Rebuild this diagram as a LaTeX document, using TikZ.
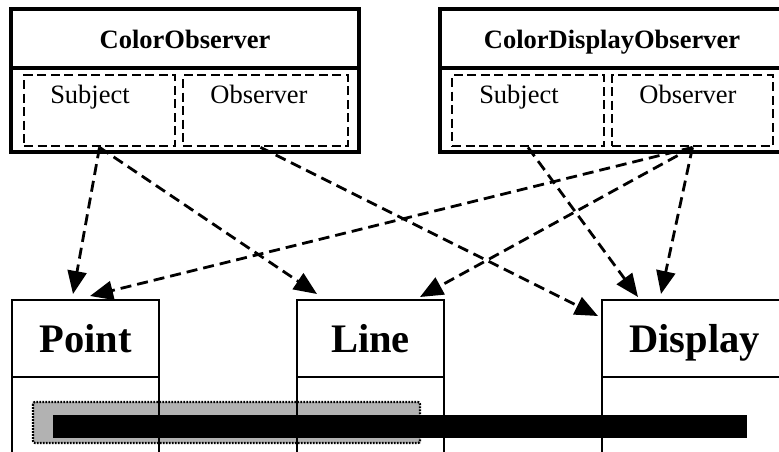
\documentclass[tikz,border=0pt]{standalone}
\usepackage{fontspec}
\setmainfont{Liberation Serif}
\usetikzlibrary{arrows.meta}
\begin{document}
\begin{tikzpicture}[x=1pt,y=-1pt,
  classbox/.style={draw, line width=3.4pt, inner sep=0pt},
  lowbox/.style={draw, line width=2.8pt, inner sep=0pt},
  partbox/.style={draw, line width=2.8pt, dash pattern=on 9pt off 4.5pt, inner sep=0pt},
  toptitle/.style={font=\bfseries\fontsize{26.5}{30}\selectfont, anchor=base, inner sep=0pt},
  lowtitle/.style={font=\bfseries\fontsize{40.5}{46}\selectfont, anchor=base, inner sep=0pt},
  partlabel/.style={font=\fontsize{26.5}{30}\selectfont, anchor=base, inner sep=0pt},
  dep/.style={line width=2.8pt, dash pattern=on 11pt off 6pt,
    -{Triangle[length=23pt,width=19pt]}},
]
\useasboundingbox (0,0) rectangle (779,451);
\clip (0,0) rectangle (779,451);

% bars running across the lower classes
\draw[fill=black!30, line width=2.2pt, dash pattern=on 1.8pt off 1.2pt, rounded corners=2pt]
  (33,402) rectangle (420,443);

% ColorObserver
\node[classbox, minimum width=348pt, minimum height=59pt] (coh) at (185,38.5) {};
\node[classbox, minimum width=348pt, minimum height=84pt] (cob) at (185,110) {};
\node[toptitle] (cot) at (185,48) {ColorObserver};
\node[partbox, minimum width=151pt, minimum height=71pt] (s1) at (99.5,110.5) {};
\node[partbox, minimum width=165pt, minimum height=71pt] (o1) at (265.5,110.5) {};
\node[partlabel] (s1t) at (90,103) {Subject};
\node[partlabel] (o1t) at (259,103) {Observer};

% ColorDisplayObserver
\node[classbox, minimum width=344pt, minimum height=59pt] (cdh) at (612,38.5) {};
\node[classbox, minimum width=344pt, minimum height=84pt] (cdb) at (612,110) {};
\node[toptitle] (cdt) at (612,48) {ColorDisplayObserver};
\node[partbox, minimum width=152pt, minimum height=71pt] (s2) at (528,110.5) {};
\node[partbox, minimum width=161pt, minimum height=71pt] (o2) at (692.5,110.5) {};
\node[partlabel] (s2t) at (519,103) {Subject};
\node[partlabel] (o2t) at (688,103) {Observer};

% Point, Line, Display
\node[lowbox, minimum width=147pt, minimum height=77pt] (ph) at (85.5,338.5) {};
\node[lowbox, minimum width=147pt, minimum height=83pt] (pb) at (85.5,418.5) {};
\node[lowtitle] (pt) at (85.5,352) {Point};
\node[lowbox, minimum width=147pt, minimum height=77pt] (lh) at (370.5,338.5) {};
\node[lowbox, minimum width=147pt, minimum height=83pt] (lb) at (370.5,418.5) {};
\node[lowtitle] (lt) at (370.5,352) {Line};
\node[lowbox, minimum width=185pt, minimum height=77pt] (dh) at (694.5,338.5) {};
\node[lowbox, minimum width=185pt, minimum height=83pt] (db) at (694.5,418.5) {};
\node[lowtitle] (dt) at (694.5,352) {Display};

\fill[black] (53,415) rectangle (747,438);

% arrow tips on the lower classes
\coordinate (t1) at (73,294);
\coordinate (t2) at (317,294);
\coordinate (t3) at (598,316);
\coordinate (t4) at (638,297);
\coordinate (t5) at (661,294);
\coordinate (t6) at (90,296);
\coordinate (t7) at (420,297);
\coordinate (o1s) at ([xshift=-5pt]o1.south);

% dependencies
\draw[dep] (s1.south) -- (t1);
\draw[dep] (s1.south) -- (t2);
\draw[dep] (o1s) -- (t3);
\draw[dep] (s2.south) -- (t4);
\draw[dep] (o2.south) -- (t5);
\draw[dep] (o2.south) -- (t6);
\draw[dep] (o2.south) -- (t7);
\end{tikzpicture}
\end{document}
